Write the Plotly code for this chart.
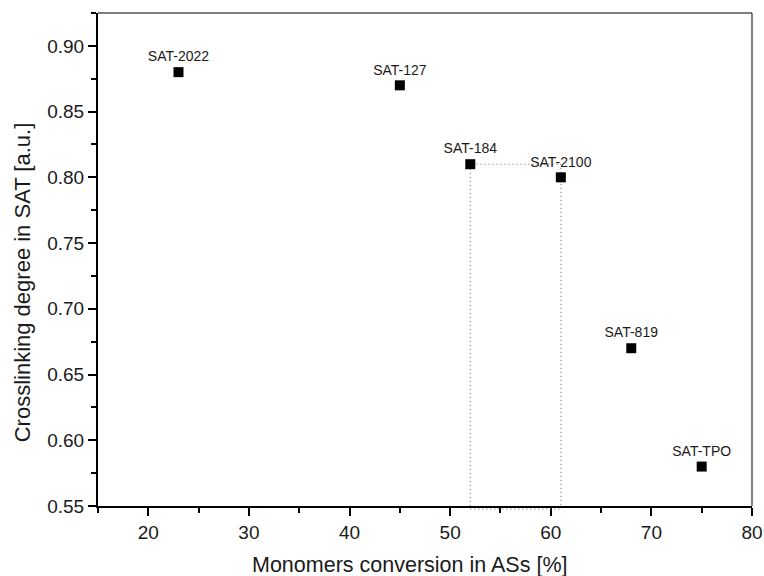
import plotly.graph_objects as go

# Sample data: monomer conversion vs. crosslinking degree
samples = ["SAT-2022", "SAT-127", "SAT-184", "SAT-2100", "SAT-819", "SAT-TPO"]
conversion = [23, 45, 52, 61, 68, 75]
crosslinking = [0.88, 0.87, 0.81, 0.80, 0.67, 0.58]

x_ticks = [20, 30, 40, 50, 60, 70, 80]
y_ticks = [0.55, 0.60, 0.65, 0.70, 0.75, 0.80, 0.85, 0.90]

x_title = "Monomers conversion in ASs [%]"
y_title = "Crosslinking degree in SAT [a.u.]"

font_family = "Liberation Sans, Arial, sans-serif"
text_color = "#1a1a1a"
dot_line = dict(color="#666666", width=1, dash="1px,3px")

fig = go.Figure()

# Dotted box spanning SAT-184 to SAT-2100
i184 = samples.index("SAT-184")
i2100 = samples.index("SAT-2100")
box_x0, box_x1 = conversion[i184], conversion[i2100]
box_y1 = crosslinking[i184]
fig.add_trace(go.Scatter(
    x=[box_x0, box_x0, box_x1, box_x1],
    y=[0.55, box_y1, box_y1, 0.55],
    mode="lines",
    line=dot_line,
    hoverinfo="skip",
    showlegend=False,
))
# Bottom edge of the box, sitting just under the x axis line
fig.add_shape(type="line", xref="x", yref="paper", x0=box_x0, x1=box_x1,
              y0=-0.006, y1=-0.006, line=dot_line, layer="above")

fig.add_trace(go.Scatter(
    x=conversion,
    y=crosslinking,
    mode="markers+text",
    text=samples,
    textposition="top center",
    textfont=dict(family=font_family, size=14, color=text_color),
    marker=dict(symbol="square", size=10, color="black"),
    showlegend=False,
))

axis_common = dict(
    showgrid=False,
    zeroline=False,
    showline=True,
    linecolor="black",
    linewidth=2,
    ticks="outside",
    ticklen=8,
    tickwidth=2,
    tickcolor="black",
    tickfont=dict(family=font_family, size=19, color=text_color),
    minor=dict(ticks="outside", ticklen=5, tickwidth=2, tickcolor="black"),
    automargin=False,
)

fig.update_xaxes(range=[15, 80], tickvals=x_ticks, minor_dtick=5, **axis_common)
fig.update_yaxes(
    range=[0.55, 0.925],
    tickvals=y_ticks,
    ticktext=[f"{v:.2f}" for v in y_ticks],
    minor_dtick=0.025,
    **axis_common,
)

# Axis titles
fig.add_annotation(text=x_title, xref="paper", yref="paper", x=0.477, y=-0.12,
                   xanchor="center", yanchor="middle", showarrow=False,
                   font=dict(family=font_family, size=21.5, color=text_color))
fig.add_annotation(text=y_title, xref="paper", yref="paper", x=-0.116, y=0.454,
                   xanchor="center", yanchor="middle", showarrow=False, textangle=-90,
                   font=dict(family=font_family, size=22, color=text_color))

# Thin frame on the top and right sides
fig.add_shape(type="line", xref="paper", yref="paper", x0=0, x1=1, y0=1, y1=1,
              line=dict(color="black", width=1))
fig.add_shape(type="line", xref="paper", yref="paper", x0=1, x1=1, y0=0, y1=1,
              line=dict(color="black", width=1))

fig.update_layout(
    width=764,
    height=576,
    margin=dict(l=98, r=12, t=13, b=70),
    paper_bgcolor="white",
    plot_bgcolor="white",
)

fig.write_html("out.html")
